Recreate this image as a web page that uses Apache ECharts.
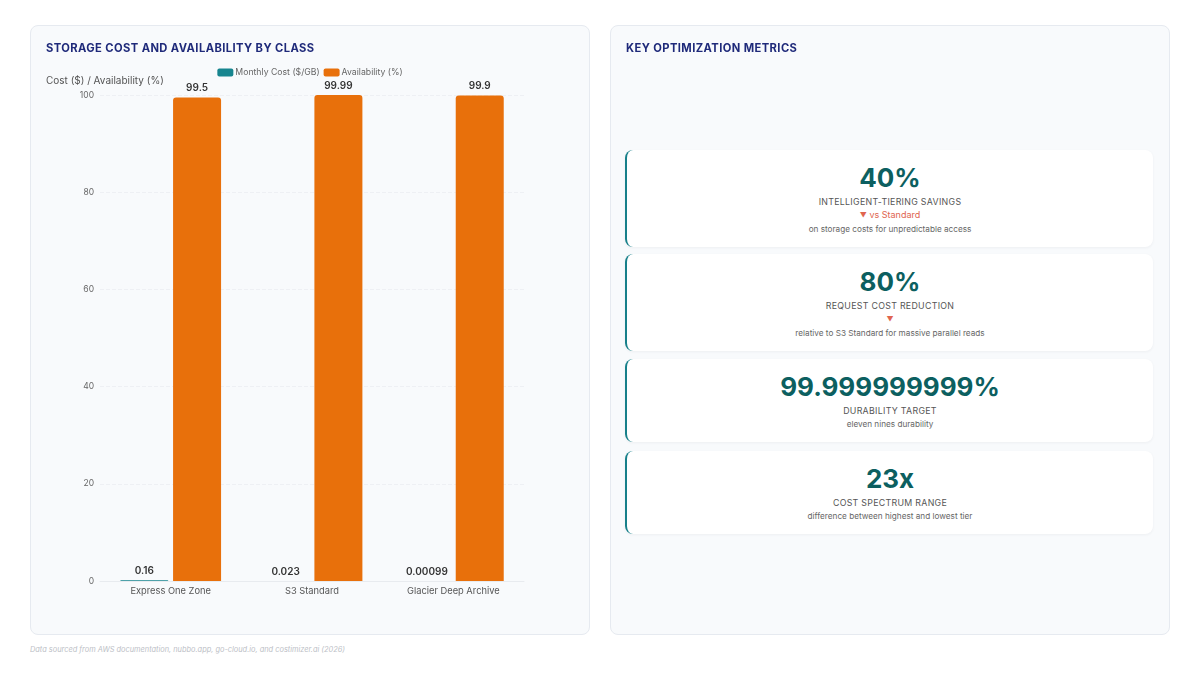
<!DOCTYPE html>
<html>
<head>
<meta charset="utf-8">
<script src="https://cdn.jsdelivr.net/npm/echarts@6/dist/echarts.min.js"></script>
<style>
  html, body { margin: 0; padding: 0; background: #ffffff; font-family: Inter, "Noto Sans", sans-serif; }
  .page { position: relative; width: 1200px; height: 675px; overflow: hidden; }
  .panel { position: absolute; top: 25px; width: 558px; height: 608px; background: #f8fafc; border: 1px solid #e6eaf0; border-radius: 8px; }
  .panel h2 { position: absolute; left: 15px; top: 15px; margin: 0; font-size: 11.2px; font-weight: 700; color: #1f2a7a; letter-spacing: 0.4px; }
  .left { left: 30px; }
  .right { left: 610px; }
  .chart { position: absolute; left: 0; top: 0; width: 558px; height: 608px; }
  .card { position: absolute; left: 14px; width: 526px; background: #ffffff; border-radius: 8px; border-left: 2px solid #17808a; box-shadow: 0 1px 3px rgba(30,40,60,0.05); text-align: center; padding: 12px 0 11px 0; }
  .card .num { font-size: 26px; line-height: 32px; font-weight: 700; color: #0c5f60; }
  .card .lbl { font-size: 8.8px; line-height: 13px; color: #555; letter-spacing: 0.3px; margin-top: 1px; }
  .card .chg { font-size: 9px; line-height: 13px; color: #e0654f; }
  .card .chg span { font-size: 7px; }
  .card .desc { font-size: 8.2px; line-height: 13px; color: #666; margin-top: 1px; }
  .foot { position: absolute; left: 30px; top: 645px; font-size: 7.4px; font-style: italic; color: #bcc0c6; }
</style>
</head>
<body>
<div class="page">
  <div class="panel left">
    <div class="chart" id="chart"></div>
    <h2>STORAGE COST AND AVAILABILITY BY CLASS</h2>
  </div>
  <div class="panel right">
    <h2>KEY OPTIMIZATION METRICS</h2>
    <div id="cards"></div>
  </div>
  <div class="foot">Data sourced from AWS documentation, nubbo.app, go-cloud.io, and costimizer.ai (2026)</div>
</div>
<script>
var classes = ['Express One Zone', 'S3 Standard', 'Glacier Deep Archive'];
var monthlyCost = [0.16, 0.023, 0.00099];
var availability = [99.5, 99.99, 99.9];
var yTicks = [0, 20, 40, 60, 80, 100];

var metricValues = ['40%', '80%', '99.999999999%', '23x'];
var metricLabels = ['INTELLIGENT-TIERING SAVINGS', 'REQUEST COST REDUCTION', 'DURABILITY TARGET', 'COST SPECTRUM RANGE'];
var metricChanges = ['vs Standard', '', null, null];
var metricDescs = ['on storage costs for unpredictable access', 'relative to S3 Standard for massive parallel reads', 'eleven nines durability', 'difference between highest and lowest tier'];
var cardTops = [124, 228, 333, 425];

// metric cards
(function(){
	var box = document.getElementById('cards');
	for (var i = 0; i < metricValues.length; i++) {
		var c = document.createElement('div');
		c.className = 'card';
		c.style.top = cardTops[i] + 'px';
		var html = '<div class="num">' + metricValues[i] + '</div>' +
			'<div class="lbl">' + metricLabels[i] + '</div>';
		if (metricChanges[i] !== null) html += '<div class="chg"><span>▼</span> ' + metricChanges[i] + '</div>';
		html += '<div class="desc">' + metricDescs[i] + '</div>';
		c.innerHTML = html;
		box.appendChild(c);
	}
})();

(function(){
	var myChart = echarts.init(document.getElementById('chart'));
	var option = {
		animation: false,
		legend: {
			top: 37,
			left: 'center',
			itemWidth: 16,
			itemHeight: 8,
			itemGap: 4,
			textStyle: { fontSize: 8.7, color: '#666', fontFamily: 'Inter', padding: [0, 0, 0, -3] },
			data: [
				{ name: 'Monthly Cost ($/GB)', itemStyle: { borderRadius: 2 } },
				{ name: 'Availability (%)', itemStyle: { borderRadius: 2 } }
			]
		},
		grid: { left: 69, right: 65, top: 69, bottom: 53 },
		xAxis: {
			type: 'category',
			data: classes,
			axisLine: { show: true, lineStyle: { color: '#e8ebef' } },
			axisTick: { show: false },
			axisLabel: { fontSize: 9.3, color: '#555', margin: 6, fontFamily: 'Inter' }
		},
		yAxis: {
			type: 'value',
			min: yTicks[0],
			max: yTicks[yTicks.length - 1],
			interval: 20,
			name: 'Cost ($) / Availability (%)',
			nameLocation: 'end',
			nameGap: 9,
			nameTextStyle: { fontSize: 10, color: '#555', align: 'left', padding: [0, 0, 0, -54], fontFamily: 'Inter' },
			axisLine: { show: false },
			axisTick: { show: false },
			axisLabel: { fontSize: 8.5, color: '#666', margin: 6, fontFamily: 'Inter' },
			splitLine: { lineStyle: { color: '#eef0f4', type: 'dashed' } }
		},
		series: [
			{
				name: 'Monthly Cost ($/GB)',
				type: 'bar',
				data: monthlyCost,
				barWidth: 48,
				barGap: '10%',
				itemStyle: { color: '#17858f', borderRadius: [3, 3, 0, 0] },
				label: { show: true, position: 'top', fontSize: 10, fontWeight: 600, color: '#333', distance: 4, fontFamily: 'Inter' }
			},
			{
				name: 'Availability (%)',
				type: 'bar',
				data: availability,
				barWidth: 48,
				itemStyle: { color: '#e8700b', borderRadius: [3, 3, 0, 0] },
				label: { show: true, position: 'top', fontSize: 10, fontWeight: 600, color: '#333', distance: 4, fontFamily: 'Inter' }
			}
		]
	};
	myChart.setOption(option);
	window.addEventListener('resize', function() {
		myChart.resize();
	});
})();
</script>
</body>
</html>
